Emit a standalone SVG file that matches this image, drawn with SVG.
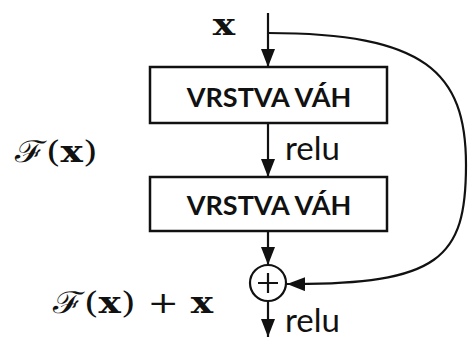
<svg xmlns="http://www.w3.org/2000/svg" width="468" height="338" viewBox="0 0 468 338">
  <style>
    .box { fill: #ffffff; stroke: #111111; stroke-width: 2.5; }
    .boxlabel { font-family: "Lato", "Open Sans", sans-serif; font-weight: bold; font-size: 27px; fill: #111111; text-anchor: middle; }
    .act { font-family: "Lato", "Open Sans", sans-serif; font-size: 33px; fill: #111111; }
    .math { font-family: "DejaVu Serif", "Liberation Serif", serif; font-size: 30px; fill: #111111; }
    .bx { font-weight: bold; }
    .wire { fill: none; stroke: #111111; stroke-width: 2.2; }
    .sum { fill: #ffffff; stroke: #111111; stroke-width: 2.2; }
  </style>
  <defs>
    <marker id="arrow" markerUnits="userSpaceOnUse" markerWidth="18" markerHeight="14" refX="18" refY="7" orient="auto">
      <path d="M0,0 L18,7 L0,14 z" fill="#111111"/>
    </marker>
  </defs>
  <rect width="468" height="338" fill="#ffffff"/>

  <!-- connectors -->
  <g id="connectors">
    <path class="wire" d="M268,13 V67" marker-end="url(#arrow)"/>
    <path class="wire" d="M268,123 V177" marker-end="url(#arrow)"/>
    <path class="wire" d="M268,231 V265" marker-end="url(#arrow)"/>
    <path class="wire" d="M268,301 V337" marker-end="url(#arrow)"/>
    <path class="wire" d="M268,33 C425,33 466,72 466,165 C466,258 440,285 287,284" marker-end="url(#arrow)"/>
  </g>

  <!-- input label (math set slightly extended) -->
  <g id="input">
    <text class="math bx" transform="translate(224,35) scale(1.25,1)" text-anchor="middle">x</text>
  </g>

  <!-- first weight layer -->
  <g id="layer1">
    <rect class="box" x="150" y="67" width="237" height="56"/>
    <text class="boxlabel" x="269" y="107">VRSTVA VÁH</text>
  </g>

  <g id="relu1">
    <text class="act" x="285" y="160">relu</text>
  </g>

  <!-- second weight layer -->
  <g id="layer2">
    <rect class="box" x="150" y="177" width="237" height="54"/>
    <text class="boxlabel" x="269" y="215">VRSTVA VÁH</text>
  </g>

  <!-- residual function label -->
  <g id="residual">
    <text class="math" transform="translate(15,162) scale(1.25,1)">ℱ(<tspan class="bx">x</tspan>)</text>
  </g>

  <!-- addition node -->
  <g id="sum">
    <circle class="sum" cx="268" cy="283" r="18"/>
    <path class="wire" d="M258,283 H278 M268,273 V293"/>
  </g>

  <g id="output-label">
    <text class="math" transform="translate(53,313) scale(1.25,1)">ℱ(<tspan class="bx">x</tspan>) + <tspan class="bx">x</tspan></text>
  </g>

  <g id="relu2">
    <text class="act" x="285" y="332">relu</text>
  </g>
</svg>
